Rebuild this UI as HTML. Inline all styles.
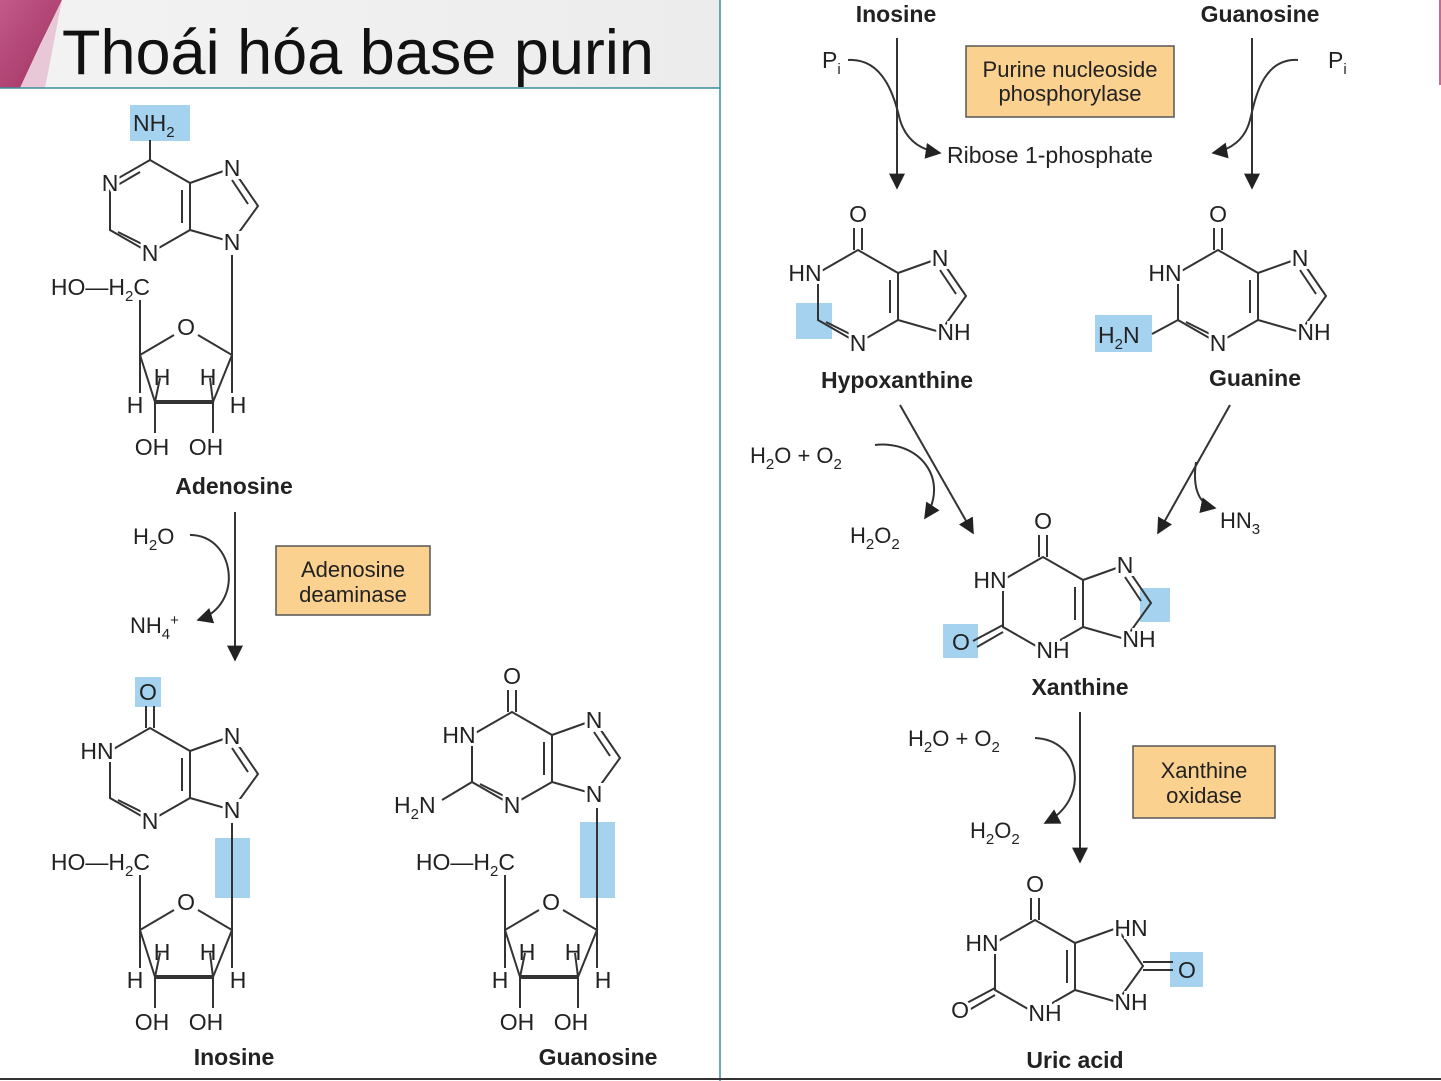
<!DOCTYPE html>
<html><head><meta charset="utf-8"><style>
html,body{margin:0;padding:0;background:#fff}
svg{display:block}
text{font-family:"Liberation Sans",sans-serif;fill:#222}
.a{font-size:23px;stroke:#fff;stroke-width:6px;paint-order:stroke;text-anchor:middle;dominant-baseline:central}
.l{font-size:23px;font-weight:bold;text-anchor:middle}
.t{font-size:22px;text-anchor:middle}
.s{font-size:15px}
line,path,polyline{stroke:#333;stroke-width:2;fill:none}
</style></head><body>
<svg width="1441" height="1081" viewBox="0 0 1441 1081" xmlns="http://www.w3.org/2000/svg">
<defs>
<linearGradient id="hd" x1="0" x2="1"><stop offset="0" stop-color="#f3f3f3"/><stop offset="1" stop-color="#ececec"/></linearGradient>
<linearGradient id="pk" x1="0" y1="0" x2="1" y2="1"><stop offset="0" stop-color="#c25a8a"/><stop offset="1" stop-color="#a0305f"/></linearGradient>
<marker id="ar" viewBox="0 0 10 10" refX="9" refY="5" markerWidth="8" markerHeight="8" orient="auto-start-reverse"><path d="M0,0 L10,5 L0,10 z" style="fill:#222;stroke:none"/></marker>
<g id="hex"><polygon points="0,0 -40,23 -40,70 0,93 40,70 40,23" style="fill:none;stroke:#333;stroke-width:2"/><polyline points="40,23 82,8 108,46 82,82 40,70"/><line x1="32" y1="30" x2="32" y2="63"/><line x1="82" y1="20" x2="98" y2="44"/></g>
<g id="rib"><polyline points="-92,-55 -92,0 -58,-20"/><polyline points="-34,-20 0,0 -19,47 -77,47 -92,0"/><line x1="-92" y1="0" x2="-92" y2="38"/><line x1="0" y1="0" x2="0" y2="38"/><line x1="-77" y1="47" x2="-77" y2="78"/><line x1="-19" y1="47" x2="-19" y2="78"/><line x1="-77" y1="47" x2="-72" y2="23"/><line x1="-19" y1="47" x2="-22" y2="23"/><line x1="-77" y1="47" x2="-19" y2="47" style="stroke-width:4"/>
<text x="-46" y="-28" style="font-size:23px;text-anchor:middle;dominant-baseline:central">O</text><text x="-70" y="22" style="font-size:23px;text-anchor:middle;dominant-baseline:central">H</text><text x="-24" y="22" style="font-size:23px;text-anchor:middle;dominant-baseline:central">H</text><text x="-97" y="50" style="font-size:23px;text-anchor:middle;dominant-baseline:central">H</text><text x="6" y="50" style="font-size:23px;text-anchor:middle;dominant-baseline:central">H</text><text x="-80" y="92" style="font-size:23px;text-anchor:middle;dominant-baseline:central">OH</text><text x="-26" y="92" style="font-size:23px;text-anchor:middle;dominant-baseline:central">OH</text>
<text x="-82" y="-60" style="font-size:23px;text-anchor:end">HO—H<tspan style="font-size:15px" dy="6">2</tspan><tspan dy="-6">C</tspan></text></g>
</defs>
<rect x="0" y="0" width="720" height="88" fill="url(#hd)"/>
<path d="M0,0 L62,0 L40,45 L20,88 L0,88 z" style="fill:url(#pk);stroke:none"/>
<path d="M62,0 L20,88 L45,88 z" style="fill:#e8c8d6;stroke:none"/>
<text x="62" y="74" style="font-size:63px;fill:#111">Thoái hóa base purin</text>
<line x1="0" y1="88" x2="720" y2="88" style="stroke:#3a8d9c;stroke-width:1.5"/>
<line x1="720" y1="0" x2="720" y2="1081" style="stroke:#3a8d9c;stroke-width:1.5"/>
<line x1="1440" y1="0" x2="1440" y2="85" style="stroke:#b03a6a;stroke-width:1.5"/>
<line x1="0" y1="1079" x2="1441" y2="1079" style="stroke:#333;stroke-width:2"/>

<!-- Adenosine -->
<rect x="130" y="105" width="60" height="36" fill="#a5d2ee"/>
<g transform="translate(150,160)"><use href="#hex"/><line x1="0" y1="0" x2="0" y2="-20"/><line x1="-10" y1="12" x2="-34" y2="26"/><line x1="-32" y1="72" x2="-4" y2="86"/>
<text class="a" x="-40" y="23">N</text><text class="a" x="0" y="93">N</text><text class="a" x="82" y="8">N</text><text class="a" x="82" y="82">N</text></g>
<text x="133" y="131" style="font-size:23px">NH<tspan class="s" dy="6">2</tspan></text>
<line x1="232" y1="255" x2="232" y2="355"/>
<g transform="translate(232,355)"><use href="#rib"/></g>
<text class="l" x="234" y="494">Adenosine</text>

<line x1="235" y1="512" x2="235" y2="660" marker-end="url(#ar)"/>
<text x="133" y="544" style="font-size:22px">H<tspan class="s" dy="6">2</tspan><tspan dy="-6">O</tspan></text>
<path d="M190,535 C235,535 245,605 198,620" marker-end="url(#ar)"/>
<text x="130" y="633" style="font-size:22px">NH<tspan class="s" dy="6">4</tspan><tspan dy="-14" class="s">+</tspan></text>
<rect x="276" y="546" width="154" height="69" style="fill:#fbd18f;stroke:#555;stroke-width:1.5"/>
<text class="t" x="353" y="577">Adenosine</text><text class="t" x="353" y="602">deaminase</text>

<!-- Inosine -->
<rect x="135" y="677" width="26" height="30" fill="#a5d2ee"/>
<rect x="215" y="838" width="35" height="60" fill="#a5d2ee"/>
<g transform="translate(150,728)"><use href="#hex"/><line x1="-4" y1="0" x2="-4" y2="-22"/><line x1="4" y1="0" x2="4" y2="-22"/><line x1="-32" y1="72" x2="-4" y2="86"/>
<text class="a" x="-53" y="23">HN</text><text class="a" x="0" y="93">N</text><text class="a" x="82" y="8">N</text><text class="a" x="82" y="82">N</text></g>
<text x="148" y="700" style="font-size:23px;text-anchor:middle">O</text>
<line x1="232" y1="823" x2="232" y2="930"/>
<g transform="translate(232,930)"><use href="#rib"/></g>
<text class="l" x="234" y="1065">Inosine</text>

<!-- Guanosine -->
<rect x="580" y="822" width="35" height="76" fill="#a5d2ee"/>
<g transform="translate(512,712)"><use href="#hex"/><line x1="-4" y1="0" x2="-4" y2="-22"/><line x1="4" y1="0" x2="4" y2="-22"/><line x1="-32" y1="72" x2="-4" y2="86"/><line x1="-40" y1="70" x2="-70" y2="88"/>
<text class="a" x="-53" y="23">HN</text><text class="a" x="0" y="93">N</text><text class="a" x="82" y="8">N</text><text class="a" x="82" y="82">N</text><text class="a" x="0" y="-36">O</text>
<text x="-118" y="101" style="font-size:23px">H<tspan class="s" dy="6">2</tspan><tspan dy="-6">N</tspan></text></g>
<line x1="597" y1="808" x2="597" y2="930"/>
<g transform="translate(597,930)"><use href="#rib"/></g>
<text class="l" x="598" y="1065">Guanosine</text>

<!-- Right top -->
<text class="l" x="896" y="22">Inosine</text>
<text class="l" x="1260" y="22">Guanosine</text>
<line x1="897" y1="38" x2="897" y2="188" marker-end="url(#ar)"/>
<line x1="1252" y1="38" x2="1252" y2="188" marker-end="url(#ar)"/>
<text x="822" y="68" style="font-size:23px">P<tspan class="s" dy="6">i</tspan></text>
<text x="1328" y="68" style="font-size:23px">P<tspan class="s" dy="6">i</tspan></text>
<path d="M848,60 C885,58 895,100 900,120 C906,140 920,150 940,153" marker-end="url(#ar)"/>
<path d="M1298,60 C1262,58 1255,100 1250,120 C1245,140 1230,150 1213,153" marker-end="url(#ar)"/>
<rect x="966" y="46" width="208" height="71" style="fill:#fbd18f;stroke:#555;stroke-width:1.5"/>
<text class="t" x="1070" y="77">Purine nucleoside</text><text class="t" x="1070" y="101">phosphorylase</text>
<text x="947" y="163" style="font-size:23px">Ribose 1-phosphate</text>

<!-- Hypoxanthine -->
<rect x="796" y="303" width="36" height="36" fill="#a5d2ee"/>
<g transform="translate(858,250)"><use href="#hex"/><line x1="-4" y1="0" x2="-4" y2="-22"/><line x1="4" y1="0" x2="4" y2="-22"/><line x1="-32" y1="72" x2="-4" y2="86"/>
<text class="a" x="-53" y="23">HN</text><text class="a" x="0" y="93">N</text><text class="a" x="82" y="8">N</text><text class="a" x="96" y="82">NH</text><text class="a" x="0" y="-36">O</text></g>
<text class="l" x="897" y="388">Hypoxanthine</text>

<!-- Guanine -->
<rect x="1095" y="315" width="57" height="37" fill="#a5d2ee"/>
<g transform="translate(1218,250)"><use href="#hex"/><line x1="-4" y1="0" x2="-4" y2="-22"/><line x1="4" y1="0" x2="4" y2="-22"/><line x1="-32" y1="72" x2="-4" y2="86"/><line x1="-40" y1="70" x2="-66" y2="84"/>
<text class="a" x="-53" y="23">HN</text><text class="a" x="0" y="93">N</text><text class="a" x="82" y="8">N</text><text class="a" x="96" y="82">NH</text><text class="a" x="0" y="-36">O</text>
<text x="-120" y="93" style="font-size:23px">H<tspan class="s" dy="6">2</tspan><tspan dy="-6">N</tspan></text></g>
<text class="l" x="1255" y="386">Guanine</text>

<!-- to xanthine -->
<line x1="900" y1="405" x2="973" y2="533" marker-end="url(#ar)"/>
<text x="750" y="463" style="font-size:22px">H<tspan class="s" dy="6">2</tspan><tspan dy="-6">O + O</tspan><tspan class="s" dy="6">2</tspan></text>
<path d="M875,445 C920,440 950,480 925,518" marker-end="url(#ar)"/>
<text x="850" y="543" style="font-size:22px">H<tspan class="s" dy="6">2</tspan><tspan dy="-6">O</tspan><tspan class="s" dy="6">2</tspan></text>
<line x1="1230" y1="405" x2="1158" y2="533" marker-end="url(#ar)"/>
<path d="M1196,462 C1192,490 1200,505 1215,508" marker-end="url(#ar)"/>
<text x="1220" y="528" style="font-size:22px">HN<tspan class="s" dy="6">3</tspan></text>

<!-- Xanthine -->
<rect x="943" y="624" width="35" height="34" fill="#a5d2ee"/>
<rect x="1140" y="588" width="30" height="34" fill="#a5d2ee"/>
<g transform="translate(1043,557)"><use href="#hex"/><line x1="-4" y1="0" x2="-4" y2="-22"/><line x1="4" y1="0" x2="4" y2="-22"/><line x1="-40" y1="68" x2="-70" y2="84"/><line x1="-40" y1="75" x2="-66" y2="90"/>
<text class="a" x="-53" y="23">HN</text><text class="a" x="10" y="93">NH</text><text class="a" x="82" y="8">N</text><text class="a" x="96" y="82">NH</text><text class="a" x="0" y="-36">O</text></g>
<text x="961" y="650" style="font-size:23px;text-anchor:middle">O</text>
<text class="l" x="1080" y="695">Xanthine</text>

<line x1="1080" y1="712" x2="1080" y2="862" marker-end="url(#ar)"/>
<text x="908" y="746" style="font-size:22px">H<tspan class="s" dy="6">2</tspan><tspan dy="-6">O + O</tspan><tspan class="s" dy="6">2</tspan></text>
<path d="M1035,738 C1082,740 1090,800 1045,823" marker-end="url(#ar)"/>
<text x="970" y="838" style="font-size:22px">H<tspan class="s" dy="6">2</tspan><tspan dy="-6">O</tspan><tspan class="s" dy="6">2</tspan></text>
<rect x="1133" y="746" width="142" height="72" style="fill:#fbd18f;stroke:#555;stroke-width:1.5"/>
<text class="t" x="1204" y="778">Xanthine</text><text class="t" x="1204" y="803">oxidase</text>

<!-- Uric acid -->
<rect x="1170" y="952" width="33" height="35" fill="#a5d2ee"/>
<g transform="translate(1035,920)"><polygon points="0,0 -40,23 -40,70 0,93 40,70 40,23" style="fill:none;stroke:#333;stroke-width:2"/><polyline points="40,23 82,8 108,46 82,82 40,70"/><line x1="32" y1="30" x2="32" y2="63"/>
<line x1="-4" y1="0" x2="-4" y2="-22"/><line x1="4" y1="0" x2="4" y2="-22"/><line x1="-40" y1="68" x2="-70" y2="84"/><line x1="-40" y1="75" x2="-66" y2="90"/>
<line x1="108" y1="42" x2="138" y2="42"/><line x1="108" y1="50" x2="138" y2="50"/>
<text class="a" x="-53" y="23">HN</text><text class="a" x="10" y="93">NH</text><text class="a" x="96" y="8">HN</text><text class="a" x="96" y="82">NH</text><text class="a" x="0" y="-36">O</text><text class="a" x="-75" y="90">O</text></g>
<text x="1187" y="978" style="font-size:23px;text-anchor:middle">O</text>
<text class="l" x="1075" y="1068">Uric acid</text>
</svg>
</body></html>
